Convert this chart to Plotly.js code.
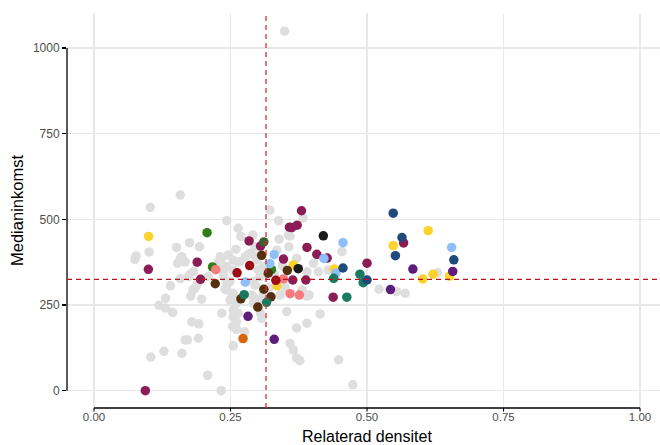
<!DOCTYPE html>
<html>
<head>
<meta charset="utf-8">
<script src="https://cdn.plot.ly/plotly-3.0.1.min.js"></script>
<style>html,body{margin:0;padding:0;background:#fff;}#chart{width:660px;height:445px;}</style>
</head>
<body>
<div id="chart"></div>
<script>
// ---- data ----
const grayX = [0.349,0.103,0.158,0.101,0.077,0.075,0.151,0.158,0.153,0.158,0.140,0.131,0.119,0.131,0.144,0.104,0.128,0.161,0.167,
  0.243,0.264,0.269,0.291,0.322,0.338,0.339,0.175,0.193,0.260,0.283,0.246,0.233,0.228,0.255,0.264,0.176,0.189,0.181,0.177,0.197,
  0.237,0.243,0.240,0.252,0.261,0.234,0.255,0.261,0.254,0.261,0.276,0.255,0.179,0.192,0.171,0.191,0.208,0.233,0.295,0.298,0.310,
  0.301,0.295,0.310,0.292,0.301,0.305,0.341,0.353,0.359,0.356,0.357,0.383,0.359,0.371,0.402,0.411,0.390,0.429,0.454,0.390,0.381,
  0.414,0.390,0.371,0.365,0.371,0.377,0.448,0.474,0.522,0.554,0.570,0.629,0.287,0.298,0.231,0.161,0.167,0.231,0.243,0.255,0.267,
  0.277,0.182,0.173,0.209,0.237,0.249,0.304,0.292,0.185,0.243,0.255,0.261,0.255,0.264,0.289,0.292,0.307,0.249,0.394,0.335,0.345,
  0.330,0.320,0.350];
const grayY = [1049,535,571,405,393,383,418,386,372,327,306,270,249,241,228,98,115,109,148,
  496,474,450,454,527,496,442,432,420,413,398,396,386,376,381,376,340,311,294,276,267,
  347,313,296,270,260,226,216,201,187,179,172,131,201,195,148,153,45,0,420,381,362,
  352,308,284,274,265,226,279,231,138,454,420,504,451,386,372,347,347,352,406,276,294,
  224,197,183,119,95,88,90,17,296,289,284,344,401,391,391,391,376,372,362,352,376,
  391,347,333,333,333,318,333,318,299,294,284,255,235,226,279,255,211,265,279,410,365,
  340,300,300];

const maroonX = [0.094,0.0995,0.189,0.195,0.284,0.305,0.347,0.358,0.380,0.362,0.372,0.390,0.408,0.427,0.500,0.438,0.567,0.364,0.388];
const maroonY = [0,354,375,325,437,422,384,477,525,476,483,418,398,387,372,273,431,323,323];
const yellowX = [0.100,0.335,0.365,0.440,0.548,0.612,0.602,0.621,0.651];
const yellowY = [450,306,367,355,423,467,326,340,334];
const greenX = [0.207,0.217,0.325];
const greenY = [461,361,353];
const darkGreenX = [0.311];
const darkGreenY = [434];
const pinkX = [0.223,0.347,0.359,0.376];
const pinkY = [353,326,283,279];
const brownX = [0.222,0.269,0.300,0.307,0.354,0.319,0.311,0.324];
const brownY = [312,268,244,395,351,343,296,274];
const darkRedX = [0.262,0.285,0.333];
const darkRedY = [344,365,322];
const lightBlueX = [0.277,0.330,0.322,0.456,0.421,0.443,0.655];
const lightBlueY = [317,397,371,432,386,343,418];
const tealX = [0.275,0.316,0.439,0.487,0.493,0.463];
const tealY = [280,258,328,340,315,273];
const purpleX = [0.282,0.330,0.584,0.543,0.657];
const purpleY = [217,150,355,295,348];
const orangeX = [0.273];
const orangeY = [152];
const navyX = [0.456,0.500,0.548,0.564,0.552,0.659];
const navyY = [358,323,518,447,394,382];
const blackX = [0.420,0.374];
const blackY = [452,356];

const refX = 0.315;   // vertical reference line
const refY = 325;     // horizontal reference line

const xTicks = [0, 0.25, 0.5, 0.75, 1];
const xTickText = ["0.00", "0.25", "0.50", "0.75", "1.00"];
const yTicks = [0, 250, 500, 750, 1000];
const yTickText = ["0", "250", "500", "750", "1000"];
const xTitle = 'Relaterad densitet';
const yTitle = 'Medianinkomst';

// ---- styling ----
const W = 660, H = 445;
const M = {l: 67, r: 0, t: 13, b: 37};
const xRange = [-0.0495, 1.0366];
const yRange = [-50.5, 1102];
const mSize = 9.5;

function pts(x, y, color) {
  return {type: 'scatter', mode: 'markers', x: x, y: y,
    marker: {color: color, size: mSize, line: {width: 0}},
    hoverinfo: 'skip', showlegend: false, cliponaxis: true};
}

const traces = [
  pts(grayX, grayY, '#dedede'),
  pts(maroonX, maroonY, '#8c1c55'),
  pts(yellowX, yellowY, '#fcd32a'),
  pts(greenX, greenY, '#2f7d19'),
  pts(darkGreenX, darkGreenY, '#3e5f33'),
  pts(pinkX, pinkY, '#f77b7b'),
  pts(brownX, brownY, '#54300f'),
  pts(darkRedX, darkRedY, '#9b0c17'),
  pts(lightBlueX, lightBlueY, '#8fbff8'),
  pts(tealX, tealY, '#1a7a5e'),
  pts(purpleX, purpleY, '#5e1c7d'),
  pts(orangeX, orangeY, '#d7650c'),
  pts(navyX, navyY, '#204a7c'),
  pts(blackX, blackY, '#1a1a1a')
];

const px = v => (v - xRange[0]) / (xRange[1] - xRange[0]);
const py = v => (v - yRange[0]) / (yRange[1] - yRange[0]);
const plotH = H - M.t - M.b;

const shapes = [
  // capped axis lines
  {type: 'line', xref: 'paper', yref: 'paper', x0: px(xTicks[0]), x1: px(xTicks[xTicks.length-1]), y0: 0, y1: 0,
   line: {color: '#000', width: 1.3}, layer: 'above'},
  {type: 'line', xref: 'paper', yref: 'paper', x0: 0, x1: 0, y0: py(yTicks[0]), y1: py(yTicks[yTicks.length-1]),
   line: {color: '#000', width: 1.3}, layer: 'above'},
  // reference lines
  {type: 'line', xref: 'x', yref: 'paper', x0: refX, x1: refX, y0: 0, y1: 1,
   line: {color: '#d62f2f', width: 1.3, dash: '5px,4px'}, layer: 'above'},
  {type: 'line', xref: 'paper', yref: 'y', x0: 0, x1: 1, y0: refY, y1: refY,
   line: {color: '#bb1418', width: 1.3, dash: '5px,4px'}, layer: 'above'}
];
// x tick marks (short strokes below the axis line)
xTicks.forEach(t => shapes.push({type: 'line', xref: 'paper', yref: 'paper',
  x0: px(t), x1: px(t), y0: 0, y1: -3.5 / plotH, line: {color: '#000', width: 1.1}, layer: 'above'}));

const fontFam = '"Liberation Sans", Arial, Helvetica, sans-serif';

const layout = {
  width: W, height: H,
  margin: M,
  paper_bgcolor: '#ffffff', plot_bgcolor: '#ffffff',
  font: {family: fontFam},
  xaxis: {
    range: xRange, tickvals: xTicks, ticktext: xTickText,
    showgrid: true, gridcolor: '#e8e8e8', gridwidth: 1.2, zeroline: false, showline: false,
    ticks: '',
    tickfont: {size: 11.5, color: '#4d4d4d', family: fontFam}
  },
  yaxis: {
    range: yRange, tickvals: yTicks, ticktext: yTickText,
    showgrid: true, gridcolor: '#e8e8e8', gridwidth: 1.2, zeroline: false, showline: false,
    ticks: 'outside', ticklen: 4, tickcolor: '#000', tickwidth: 1.1,
    tickfont: {size: 12, color: '#4d4d4d', family: fontFam},
    title: {text: yTitle, font: {size: 16.5, color: '#000', family: fontFam}, standoff: 5}
  },
  annotations: [
    {text: xTitle, xref: 'x', yref: 'paper', x: 0.5, y: -(M.b + 1) / plotH,
     xanchor: 'center', yanchor: 'bottom', showarrow: false, borderpad: 0,
     font: {size: 16, color: '#000', family: fontFam}}
  ],
  shapes: shapes
};

Plotly.newPlot('chart', traces, layout, {displayModeBar: false, staticPlot: true});
</script>
</body>
</html>
